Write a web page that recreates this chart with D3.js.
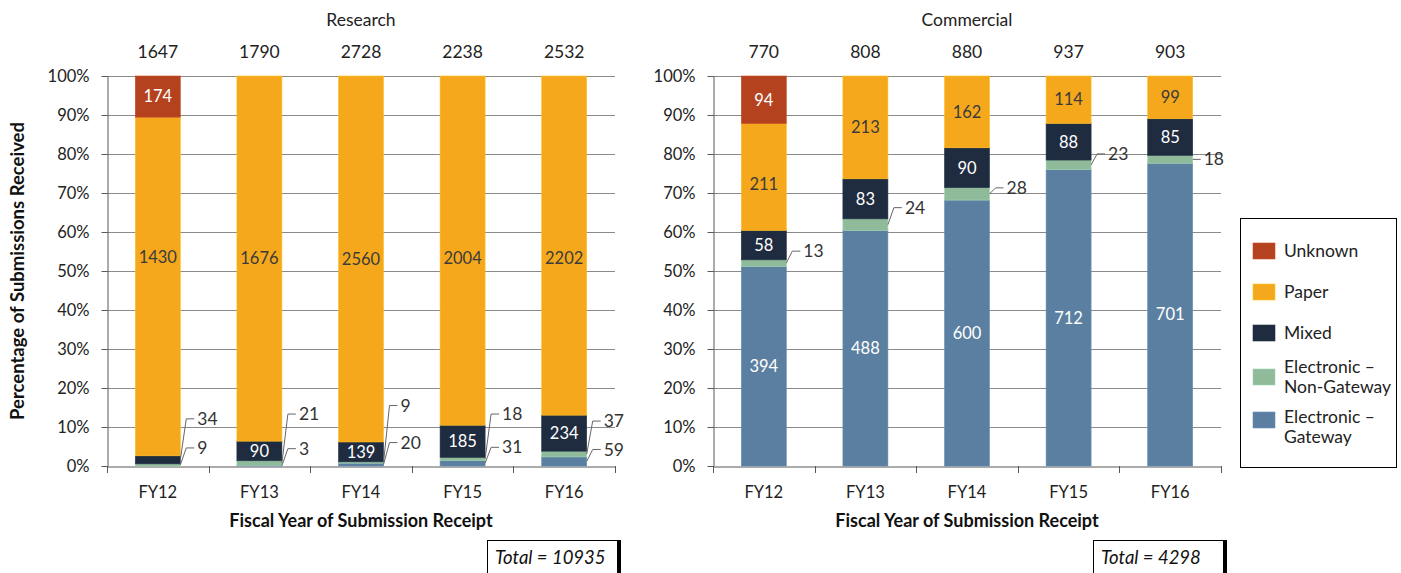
<!DOCTYPE html>
<html>
<head>
<meta charset="utf-8">
<title>Submissions by type</title>
<style>
  body { margin: 0; background: #fff; }
  text { font-family: Lato, "Liberation Sans", sans-serif; }
</style>
</head>
<body>
<script src="https://d3js.org/d3.v7.min.js"></script>
<script>

var width = 1401,
    height = 573;

// categories
var years = ["FY12", "FY13", "FY14", "FY15", "FY16"];

// series, stacked bottom to top
var seriesKeys = ["gateway", "nonGateway", "mixed", "paper", "unknown"];
var seriesNames = ["Electronic – Gateway", "Electronic – Non-Gateway", "Mixed", "Paper", "Unknown"];

// Research submissions
var researchGateway    = [0, 3, 20, 31, 59];
var researchNonGateway = [9, 21, 9, 18, 37];
var researchMixed      = [34, 90, 139, 185, 234];
var researchPaper      = [1430, 1676, 2560, 2004, 2202];
var researchUnknown    = [174, 0, 0, 0, 0];
var researchTotals     = [1647, 1790, 2728, 2238, 2532];
var researchGrandTotal = 10935;

// Commercial submissions
var commercialGateway    = [394, 488, 600, 712, 701];
var commercialNonGateway = [13, 24, 28, 23, 18];
var commercialMixed      = [58, 83, 90, 88, 85];
var commercialPaper      = [211, 213, 162, 114, 99];
var commercialUnknown    = [94, 0, 0, 0, 0];
var commercialTotals     = [770, 808, 880, 937, 903];
var commercialGrandTotal = 4298;

// y tick values (share)
var yTicks = [0, 0.1, 0.2, 0.3, 0.4, 0.5, 0.6, 0.7, 0.8, 0.9, 1];

var color = d3.scaleOrdinal()
    .domain(seriesKeys)
    .range(["#5b7fa1", "#8fbb9a", "#1f2c40", "#f6a81c", "#b4421f"]);

var labelColor = {gateway: "#fff", nonGateway: "#333", mixed: "#fff", paper: "#3b3b3b", unknown: "#fff"};

// labels that sit outside the bars with a leader line: [series, year index, label dy from segment middle]
var researchCallouts = [
  ["mixed", 0, -41], ["nonGateway", 0, -17],
  ["nonGateway", 1, -49], ["gateway", 1, -17],
  ["nonGateway", 2, -57], ["gateway", 2, -22],
  ["nonGateway", 3, -45], ["gateway", 3, -16],
  ["nonGateway", 4, -33], ["gateway", 4, -12]
];
var commercialCallouts = [
  ["nonGateway", 0, -12], ["nonGateway", 1, -17], ["nonGateway", 2, -6],
  ["nonGateway", 3, -11], ["nonGateway", 4, 0]
];

function buildRows(gw, ngw, mx, pp, unk) {
  return years.map(function (y, i) {
    return {year: y, gateway: gw[i], nonGateway: ngw[i], mixed: mx[i], paper: pp[i], unknown: unk[i]};
  });
}

var panels = [
  {
    title: "Research", x0: 107, rows: buildRows(researchGateway, researchNonGateway, researchMixed, researchPaper, researchUnknown),
    totals: researchTotals, grand: researchGrandTotal, callouts: researchCallouts, yTitle: true,
    boxX: 487, labelShift: {"paper-0": -29, "paper-3": 8, "paper-4": 13}
  },
  {
    title: "Commercial", x0: 713, rows: buildRows(commercialGateway, commercialNonGateway, commercialMixed, commercialPaper, commercialUnknown),
    totals: commercialTotals, grand: commercialGrandTotal, callouts: commercialCallouts, yTitle: false,
    boxX: 1093, labelShift: {"paper-0": 7}
  }
];

var svg = d3.select("body").append("svg")
    .attr("width", width)
    .attr("height", height);

var y = d3.scaleLinear().domain([0, 1]).range([466, 76]);

var stack = d3.stack().keys(seriesKeys).offset(d3.stackOffsetExpand);

panels.forEach(function (p) {
  var x = d3.scaleBand()
      .domain(years)
      .range([p.x0, p.x0 + 508])
      .paddingInner(0.557)
      .paddingOuter(0.2785);

  var g = svg.append("g");
  var x1 = p.x0 + 508;

  // gridlines
  g.append("g").selectAll("line")
    .data(yTicks.filter(function (d) { return d > 0; }))
    .enter().append("line")
      .attr("x1", p.x0).attr("x2", x1)
      .attr("y1", function (d) { return y(d) + 0.5; })
      .attr("y2", function (d) { return y(d) + 0.5; })
      .attr("stroke", "#8a8a8a")
      .attr("stroke-width", 1);

  // y axis
  var yAxis = g.append("g")
      .attr("transform", "translate(" + (p.x0 + 0.5) + ",0)")
      .call(d3.axisLeft(y).tickValues(yTicks).tickFormat(d3.format(".0%")).tickSize(6).tickPadding(12).tickSizeOuter(0));
  yAxis.select(".domain").attr("stroke", "#595959");
  yAxis.selectAll(".tick line").attr("stroke", "#595959");
  yAxis.selectAll(".tick text").attr("font-size", 16.5).attr("fill", "#222").style("font-family", "Lato, sans-serif");

  // x axis: labels centred, ticks between categories
  var xAxis = g.append("g")
      .attr("transform", "translate(0,466.5)")
      .call(d3.axisBottom(x).tickSize(0).tickPadding(20).tickSizeOuter(0));
  xAxis.select(".domain").attr("stroke", "#595959");
  xAxis.selectAll(".tick text").attr("font-size", 16.5).attr("fill", "#222").style("font-family", "Lato, sans-serif");
  g.append("g").selectAll("line")
    .data(d3.range(years.length + 1))
    .enter().append("line")
      .attr("x1", function (i) { return Math.round(x.range()[0] + i * x.step()) + 0.5; })
      .attr("x2", function (i) { return Math.round(x.range()[0] + i * x.step()) + 0.5; })
      .attr("y1", 466).attr("y2", 473)
      .attr("stroke", "#595959");

  // bars
  var series = stack(p.rows);
  var layer = g.append("g").selectAll("g")
    .data(series)
    .enter().append("g")
      .attr("fill", function (s) { return color(s.key); });

  layer.selectAll("rect")
    .data(function (s) { return s.map(function (d) { return {key: s.key, d0: d[0], d1: d[1], year: d.data.year}; }); })
    .enter().append("rect")
      .attr("x", function (d) { return x(d.year); })
      .attr("width", x.bandwidth())
      .attr("y", function (d) { return y(d.d1); })
      .attr("height", function (d) { return y(d.d0) - y(d.d1); })
      .attr("stroke", function (d) { return d3.color(color(d.key)).brighter(0.35); })
      .attr("stroke-width", 0.6);

  // labels
  var calloutKey = {};
  p.callouts.forEach(function (c) { calloutKey[c[0] + "-" + c[1]] = c[2]; });

  series.forEach(function (s) {
    s.forEach(function (d, i) {
      var v = d.data[s.key];
      if (!v) return;
      var mid = y((d[0] + d[1]) / 2);
      var k = s.key + "-" + i;
      if (k in calloutKey) {
        var xr = x(years[i]) + x.bandwidth();
        var ly = mid + calloutKey[k];
        var ex = calloutKey[k] === 0 ? xr : xr + 6;
        g.append("path")
          .attr("d", "M" + xr + "," + mid + "L" + ex + "," + ly + "L" + (ex + 8) + "," + ly)
          .attr("fill", "none")
          .attr("stroke", "#666")
          .attr("stroke-width", 1);
        g.append("text")
          .attr("x", ex + 11)
          .attr("y", ly)
          .attr("dy", "0.35em")
          .attr("font-size", 17.5)
          .attr("fill", "#333")
          .text(v);
      } else {
        g.append("text")
          .attr("x", x(years[i]) + x.bandwidth() / 2)
          .attr("y", mid + (p.labelShift[k] || 0))
          .attr("dy", "0.35em")
          .attr("text-anchor", "middle")
          .attr("font-size", 16.5)
          .attr("fill", labelColor[s.key])
          .text(v);
      }
    });
  });

  // totals above bars
  g.append("g").selectAll("text")
    .data(p.totals)
    .enter().append("text")
      .attr("x", function (d, i) { return x(years[i]) + x.bandwidth() / 2; })
      .attr("y", 52)
      .attr("dy", "0.35em")
      .attr("text-anchor", "middle")
      .attr("font-size", 17.5)
      .attr("fill", "#222")
      .text(function (d) { return d; });

  // panel title
  g.append("text")
    .attr("x", (p.x0 + x1) / 2)
    .attr("y", 20)
    .attr("dy", "0.35em")
    .attr("text-anchor", "middle")
    .attr("font-size", 17.5)
    .attr("fill", "#222")
    .text(p.title);

  // x title
  g.append("text")
    .attr("x", (p.x0 + x1) / 2)
    .attr("y", 521)
    .attr("dy", "0.35em")
    .attr("text-anchor", "middle")
    .attr("font-size", 18)
    .attr("font-weight", "bold")
    .attr("fill", "#111")
    .text("Fiscal Year of Submission Receipt");

  if (p.yTitle) {
    g.append("text")
      .attr("transform", "translate(18," + (y(0.5)) + ") rotate(-90)")
      .attr("dy", "0.35em")
      .attr("text-anchor", "middle")
      .attr("font-size", 18.5)
      .attr("font-weight", "bold")
      .attr("fill", "#111")
      .text("Percentage of Submissions Received");
  }

  // total box
  var box = g.append("g").attr("transform", "translate(" + p.boxX + ",540)");
  box.append("rect")
    .attr("x", 130).attr("y", 0).attr("width", 4).attr("height", 40)
    .attr("fill", "#000");
  box.append("rect")
    .attr("x", 0.5).attr("y", 0.5).attr("width", 130).attr("height", 40)
    .attr("fill", "#fff").attr("stroke", "#000").attr("stroke-width", 1);
  box.append("text")
    .attr("x", 8)
    .attr("y", 18)
    .attr("dy", "0.35em")
    .attr("font-size", 18.5)
    .attr("font-style", "italic")
    .attr("fill", "#111")
    .text("Total = " + p.grand);
});

// legend
var legendItems = seriesKeys.slice().reverse();
var legendLines = {
  unknown: ["Unknown"], paper: ["Paper"], mixed: ["Mixed"],
  nonGateway: ["Electronic –", "Non-Gateway"], gateway: ["Electronic –", "Gateway"]
};
var legend = svg.append("g");
legend.append("rect")
  .attr("x", 1240.5).attr("y", 218.5).attr("width", 156).attr("height", 249)
  .attr("fill", "#fff").attr("stroke", "#000");

var legendY = [251, 292, 333, 377, 427];
legendItems.forEach(function (k, i) {
  var cy = legendY[i];
  var sy = k === "gateway" ? cy - 7 : cy;
  legend.append("rect")
    .attr("x", 1253).attr("y", sy - 8).attr("width", 22).attr("height", 16)
    .attr("fill", color(k))
    .attr("stroke", d3.color(color(k)).brighter(0.4))
    .attr("stroke-width", 0.6);
  var lines = legendLines[k];
  lines.forEach(function (t, j) {
    legend.append("text")
      .attr("x", 1284)
      .attr("y", cy + (j - (lines.length - 1) / 2) * 20)
      .attr("dy", "0.35em")
      .attr("font-size", 17.5)
      .attr("fill", "#222")
      .text(t);
  });
});

</script>
</body>
</html>
